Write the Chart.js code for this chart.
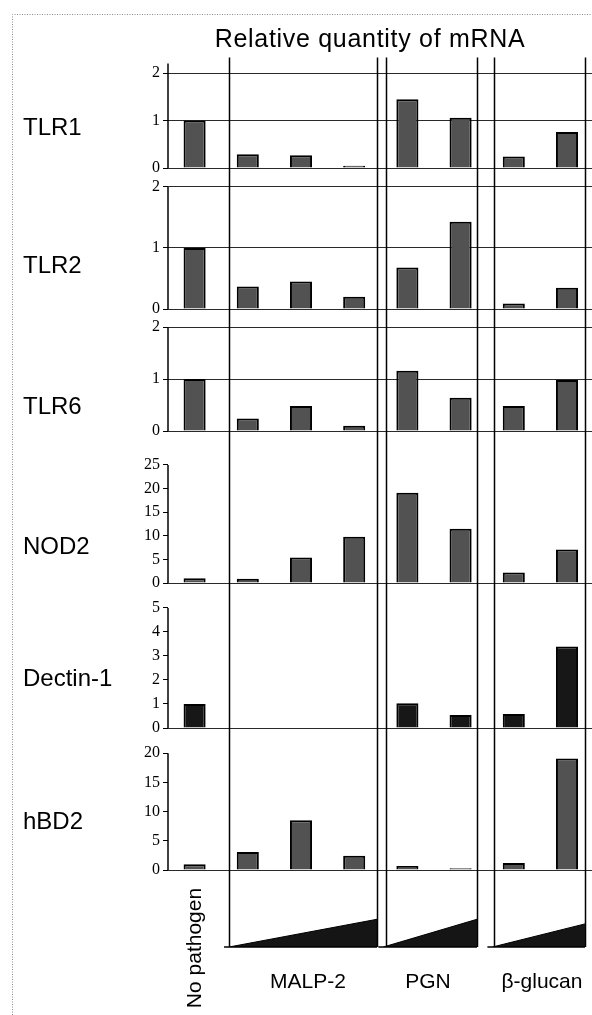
<!DOCTYPE html>
<html>
<head>
<meta charset="utf-8">
<script src="https://cdn.jsdelivr.net/npm/chart.js@4.4.1/dist/chart.umd.min.js"></script>
<style>
html,body{margin:0;padding:0;background:#fff;}
canvas{display:block;}
</style>
</head>
<body>
<canvas id="c" width="592" height="1015"></canvas>
<script>
// ---------------- data ----------------
const title = 'Relative quantity of mRNA';
const categories = ['No pathogen', 'MALP-2 low', 'MALP-2 mid', 'MALP-2 high', 'PGN low', 'PGN high', 'β-glucan low', 'β-glucan high'];
const genes = ['TLR1', 'TLR2', 'TLR6', 'NOD2', 'Dectin-1', 'hBD2'];
const tlr1    = [1.0, 0.29, 0.27, 0.05, 1.45, 1.06, 0.24, 0.76];
const tlr2    = [1.0, 0.37, 0.45, 0.20, 0.68, 1.43, 0.09, 0.35];
const tlr6    = [1.0, 0.24, 0.48, 0.10, 1.16, 0.64, 0.48, 0.98];
const nod2    = [1.0, 0.9, 5.4, 9.8, 19.1, 11.5, 2.2, 7.1];
const dectin1 = [1.0, null, null, null, 1.03, 0.54, 0.58, 3.39];
const hbd2    = [1.0, 3.1, 8.5, 2.45, 0.7, 0.3, 1.2, 19.1];
const tlrTicks    = [0, 1, 2];
const nod2Ticks   = [0, 5, 10, 15, 20, 25];
const dectinTicks = [0, 1, 2, 3, 4, 5];
const hbd2Ticks   = [0, 5, 10, 15, 20];
const groupLabels = ['No pathogen', 'MALP-2', 'PGN', 'β-glucan'];
const doseGroups = ['MALP-2', 'PGN', 'β-glucan'];
const doseWedgeHeights = [0.36, 0.36, 0.30];

// ---------------- layout (positions / sizes / styles) ----------------
const series = [tlr1, tlr2, tlr6, nod2, dectin1, hbd2];
const tickSets = [tlrTicks, tlrTicks, tlrTicks, nod2Ticks, dectinTicks, hbd2Ticks];
const yIds = ['yTLR1', 'yTLR2', 'yTLR6', 'yNOD2', 'yDectin', 'yHBD2'];
const panelMax = [2.2, 2.31, 2.35, 32.2, 6.04, 24.3];
const panelWeights = [104.5, 141, 122, 152, 145, 142];
const doseWeight = 77;
const showGrid = [true, true, true, false, false, false];
const separators = [[0.647], [3.429, 3.598], [5.308, 5.628], [7.338]];
const wedgeSpans = [
  [separators[0][0], separators[1][0]],
  [separators[1][1] - 0.05, separators[2][0]],
  [separators[2][1] - 0.03, separators[3][0]]
];
const groupLabelX = [0, 2.13, 4.387, 6.53];
const rowLabelBaselines = [135, 273, 414, 554, 686, 829];

const datasets = series.map((vals, i) => ({
  type: 'bar',
  label: genes[i],
  data: vals.map((v, j) => ({ x: j, y: v })),
  xAxisID: 'x',
  yAxisID: yIds[i],
  backgroundColor: i === 4 ? '#171717' : '#525252',
  borderColor: '#000',
  borderWidth: 2,
  grouped: false,
  barPercentage: 0.415,
  categoryPercentage: 1
}));
doseGroups.forEach((g, k) => {
  datasets.push({
    type: 'line',
    label: g + ' dose',
    data: [{ x: wedgeSpans[k][0], y: 0 }, { x: wedgeSpans[k][1], y: doseWedgeHeights[k] }],
    xAxisID: 'x',
    yAxisID: 'yDose',
    borderColor: '#000',
    borderWidth: 1,
    backgroundColor: '#151515',
    fill: 'origin',
    pointRadius: 0,
    tension: 0
  });
});

const scales = {
  x: { type: 'linear', min: -0.5, max: 7.47, offset: false, display: false, grid: { offset: false } }
};
yIds.forEach((id, i) => {
  scales[id] = {
    type: 'linear', axis: 'y', position: 'left',
    stack: 'rows', stackWeight: panelWeights[i], weight: 20 - i,
    min: 0, max: panelMax[i],
    afterBuildTicks: s => { s.ticks = tickSets[i].map(v => ({ value: v })); },
    afterFit: s => { s.width = 40; },
    border: { display: false },
    grid: {
      color: c => ((c.tick && c.tick.value === 0) || showGrid[i]) ? '#2a2a2a' : 'rgba(0,0,0,0)',
      lineWidth: 1,
      tickLength: 5,
      tickColor: '#000'
    },
    ticks: {
      font: { family: '"Liberation Serif", "Times New Roman", serif', size: 16 },
      color: '#000', padding: 3, autoSkip: false,
      callback: v => String(v)
    }
  };
});
scales.yDose = {
  type: 'linear', axis: 'y', position: 'left',
  stack: 'rows', stackWeight: doseWeight, weight: 1,
  min: 0, max: 1,
  afterFit: s => { s.width = 40; },
  ticks: { display: false }, grid: { display: false }, border: { display: false }
};

const decor = {
  id: 'decor',
  beforeDraw(chart) {
    const ctx = chart.ctx;
    ctx.save();
    ctx.strokeStyle = '#8a8a8a';
    ctx.lineWidth = 1;
    ctx.setLineDash([1, 1.5]);
    ctx.beginPath();
    ctx.moveTo(12.5, 1015); ctx.lineTo(12.5, 14.5); ctx.lineTo(592, 14.5);
    ctx.stroke();
    ctx.restore();
  },
  afterDatasetsDraw(chart) {
    const ctx = chart.ctx, xs = chart.scales.x, area = chart.chartArea;
    ctx.save();
    ctx.strokeStyle = '#000';
    ctx.lineWidth = 1.5;
    // panel axis lines
    yIds.forEach((id, i) => {
      const s = chart.scales[id];
      const ticks = tickSets[i];
      const top = i === 0 ? s.top : s.getPixelForValue(ticks[ticks.length - 1]);
      ctx.beginPath();
      ctx.moveTo(s.right, top);
      ctx.lineTo(s.right, s.getPixelForValue(0));
      ctx.stroke();
    });
    // group separators
    separators.flat().forEach(v => {
      const px = Math.round(xs.getPixelForValue(v)) + 0.5;
      ctx.beginPath();
      ctx.moveTo(px, area.top - 6);
      ctx.lineTo(px, area.bottom);
      ctx.stroke();
    });
    // wedge bases
    const yd = chart.scales.yDose;
    const by = yd.getPixelForValue(0);
    wedgeSpans.forEach(([a, b]) => {
      ctx.beginPath();
      ctx.moveTo(xs.getPixelForValue(a) - 5, by);
      ctx.lineTo(xs.getPixelForValue(b), by);
      ctx.stroke();
    });
    ctx.restore();
  },
  afterDraw(chart) {
    const ctx = chart.ctx, xs = chart.scales.x;
    ctx.save();
    ctx.fillStyle = '#000';
    ctx.textBaseline = 'alphabetic';
    // title
    ctx.font = '25px "Liberation Sans", Arial, sans-serif';
    ctx.textAlign = 'center';
    if ('letterSpacing' in ctx) ctx.letterSpacing = '0.7px';
    ctx.fillText(title, 370, 47);
    if ('letterSpacing' in ctx) ctx.letterSpacing = '0px';
    // row labels
    ctx.font = '24px "Liberation Sans", Arial, sans-serif';
    ctx.textAlign = 'left';
    genes.forEach((g, i) => ctx.fillText(g, 23, rowLabelBaselines[i]));
    // group labels
    ctx.font = '21px "Liberation Sans", Arial, sans-serif';
    ctx.textAlign = 'center';
    for (let k = 1; k < groupLabels.length; k++) {
      ctx.fillText(groupLabels[k], xs.getPixelForValue(groupLabelX[k]), 988);
    }
    // rotated "No pathogen"
    ctx.save();
    ctx.translate(xs.getPixelForValue(groupLabelX[0]) + 6.5, 948);
    ctx.rotate(-Math.PI / 2);
    ctx.fillText(groupLabels[0], 0, 0);
    ctx.restore();
    ctx.restore();
  }
};

new Chart(document.getElementById('c'), {
  type: 'bar',
  data: { labels: categories, datasets },
  options: {
    responsive: false,
    animation: false,
    devicePixelRatio: 1,
    layout: { padding: { left: 128, top: 63.5, right: 0, bottom: 68 } },
    plugins: { legend: { display: false }, tooltip: { enabled: false }, title: { display: false } },
    scales
  },
  plugins: [decor]
});
</script>
</body>
</html>
